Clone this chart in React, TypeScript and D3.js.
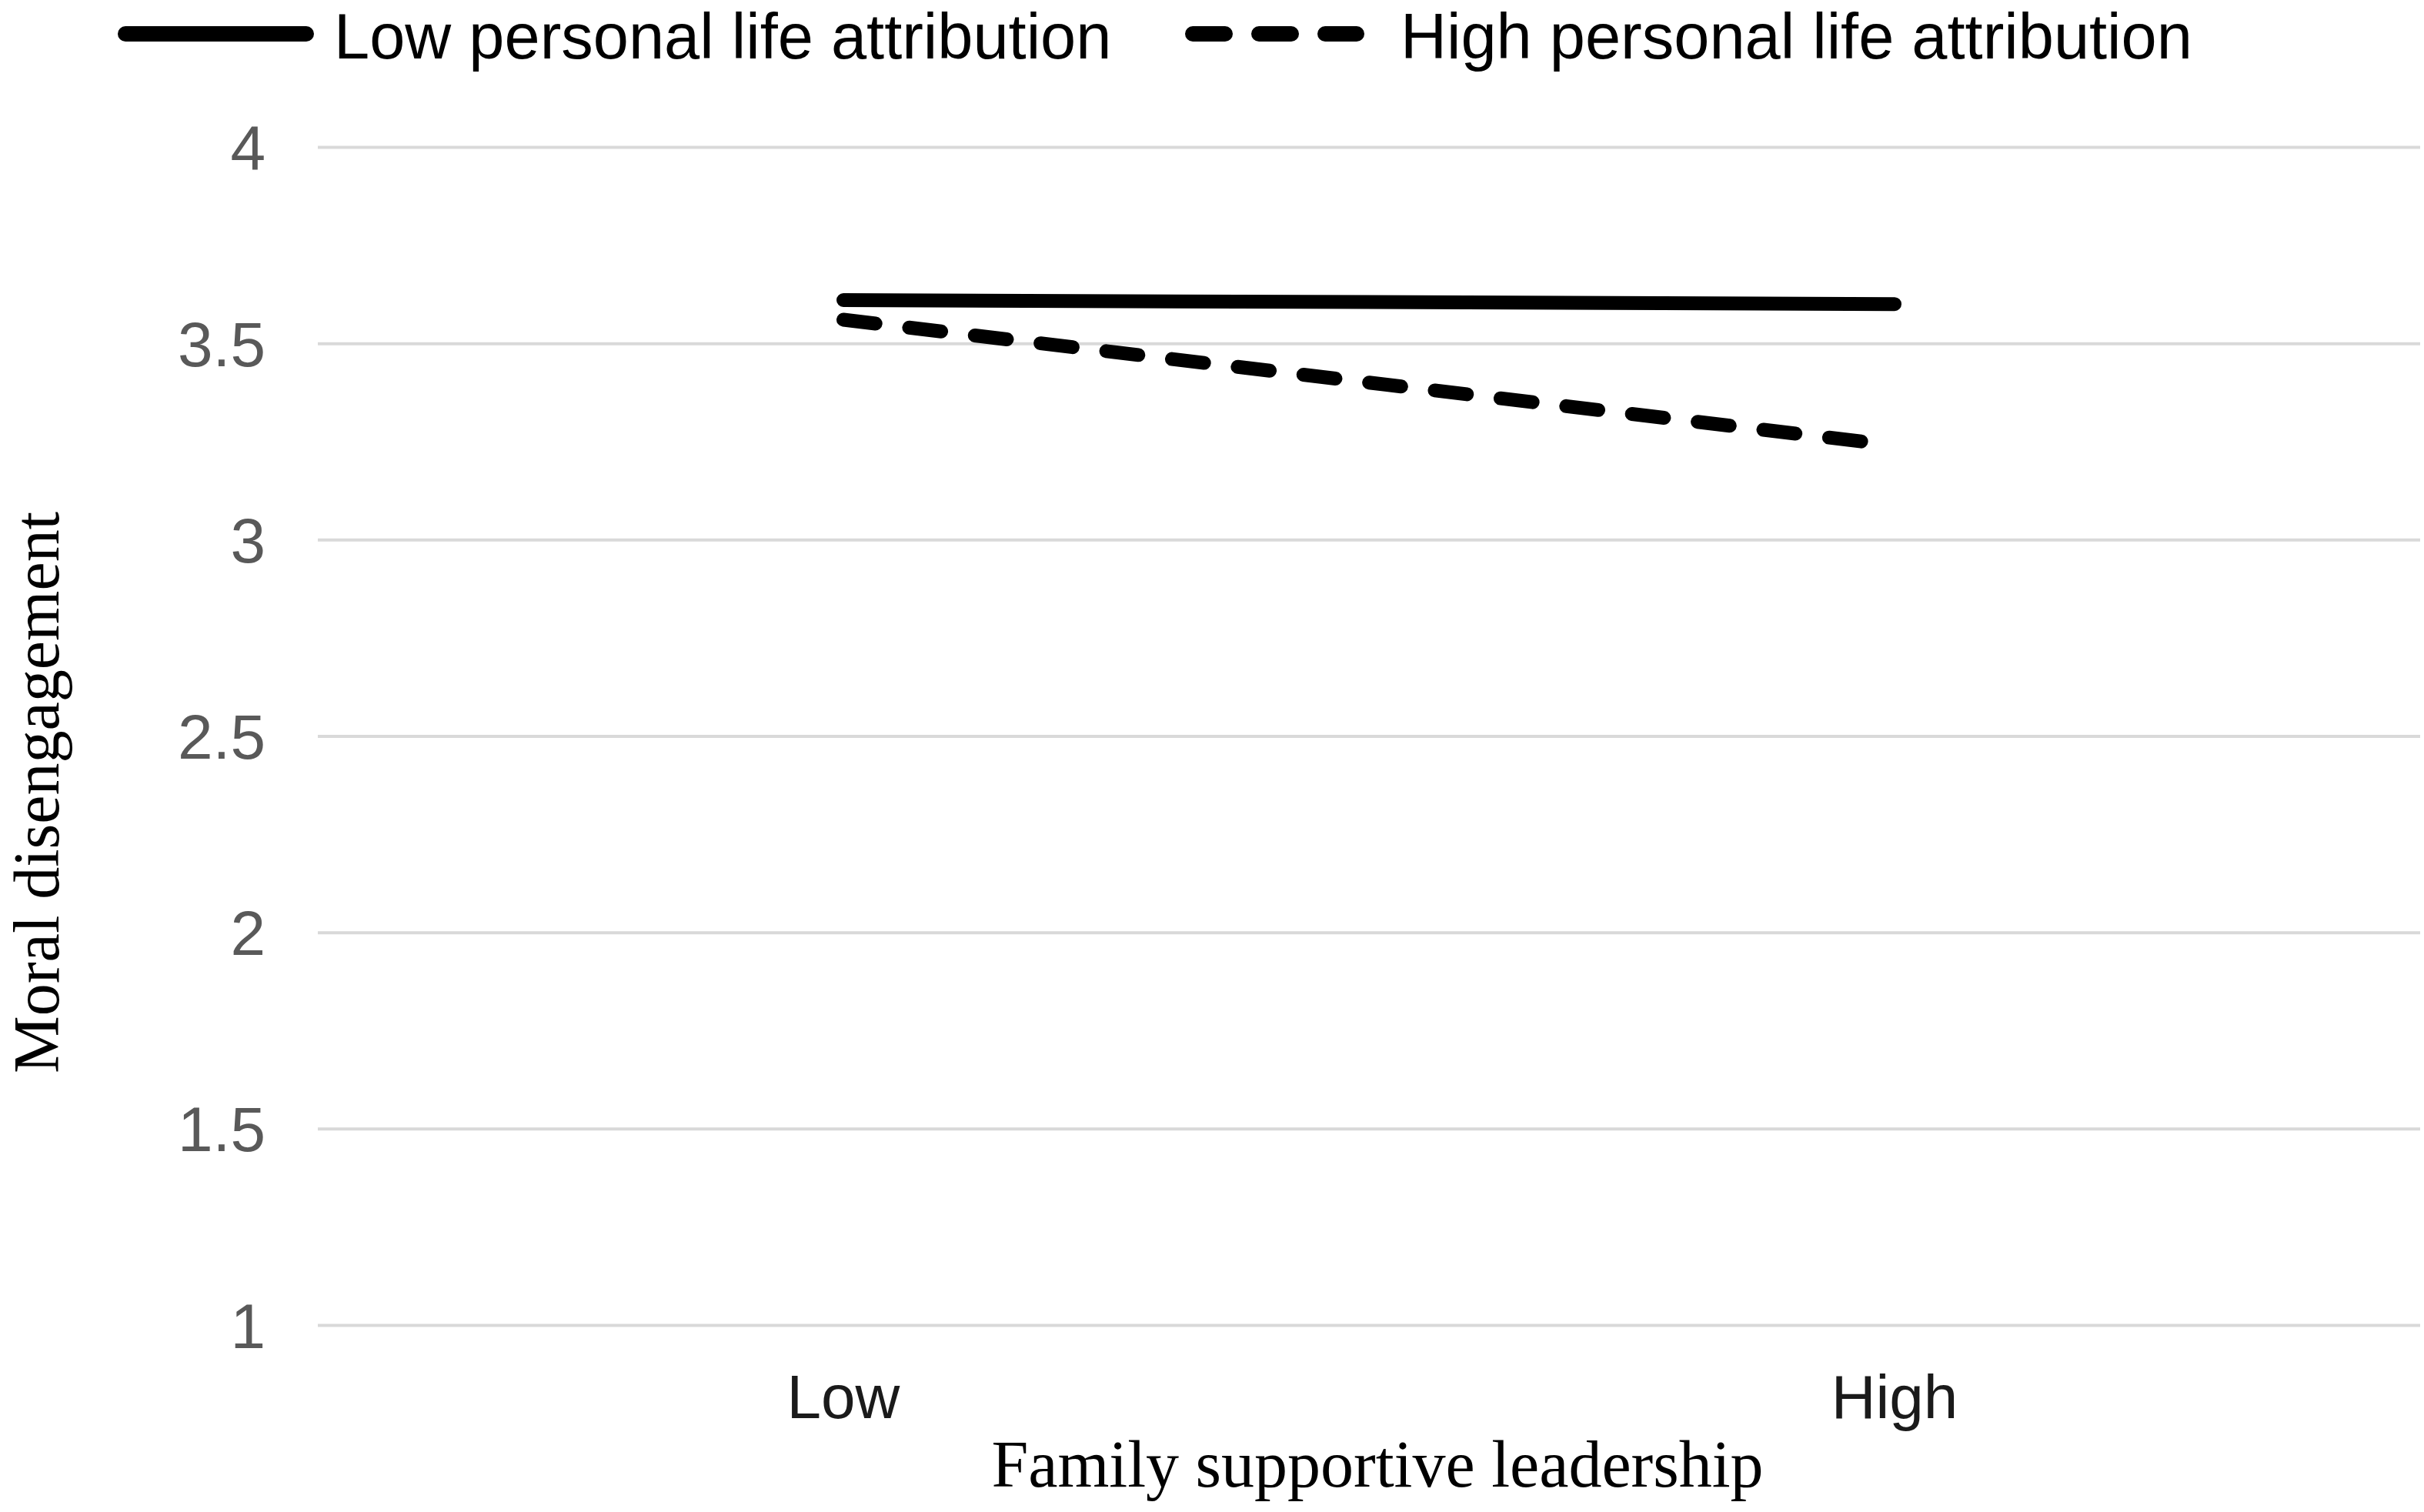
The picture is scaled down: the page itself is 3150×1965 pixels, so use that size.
import { useRef, useEffect } from "react";
import * as d3 from "d3";

const categories = ["Low", "High"];
const yTicks = [1, 1.5, 2, 2.5, 3, 3.5, 4];
const lowAttribution = [3.61, 3.6];
const highAttribution = [3.56, 3.24];
const seriesNames = ["Low personal life attribution", "High personal life attribution"];

export default function App() {
  const svgRef = useRef<SVGSVGElement>(null);

  useEffect(() => {
    const svg = d3.select(svgRef.current);
    const width = 3150;
    const height = 1965;
    svg.selectAll("*").remove();
    svg.attr("width", width).attr("height", height);

    svg.append("rect").attr("width", width).attr("height", height).attr("fill", "#fff");

    const x = d3.scalePoint<string>().domain(categories).range([413, 3145]).padding(0.5);
    const y = d3.scaleLinear().domain([1, 4]).range([1722, 191]);

    // grid
    const grid = svg
      .append("g")
      .attr("transform", "translate(413,0)")
      .call(d3.axisLeft(y).tickValues(yTicks).tickSize(-(3145 - 413)).tickFormat(() => ""));
    grid.select(".domain").remove();
    grid.selectAll("line").attr("stroke", "#d9d9d9").attr("stroke-width", 4);

    // y tick labels
    svg
      .append("g")
      .selectAll("text")
      .data(yTicks)
      .join("text")
      .attr("x", 345)
      .attr("y", (d) => y(d))
      .attr("dy", "0.36em")
      .attr("text-anchor", "end")
      .attr("font-family", "Liberation Sans, Arial, sans-serif")
      .attr("font-size", 82)
      .attr("fill", "#595959")
      .text((d) => String(d));

    // x tick labels
    svg
      .append("g")
      .selectAll("text")
      .data(categories)
      .join("text")
      .attr("x", (d) => x(d)!)
      .attr("y", 1843)
      .attr("text-anchor", "middle")
      .attr("font-family", "Liberation Sans, Arial, sans-serif")
      .attr("font-size", 80)
      .attr("fill", "#1a1a1a")
      .text((d) => d);

    // axis titles
    svg
      .append("text")
      .attr("x", 1790)
      .attr("y", 1932)
      .attr("text-anchor", "middle")
      .attr("font-family", "Liberation Serif, Times New Roman, serif")
      .attr("font-size", 86)
      .attr("fill", "#000")
      .text("Family supportive leadership");

    svg
      .append("text")
      .attr("transform", "translate(76,1030) rotate(-90)")
      .attr("text-anchor", "middle")
      .attr("font-family", "Liberation Serif, Times New Roman, serif")
      .attr("font-size", 84)
      .attr("fill", "#000")
      .text("Moral disengagement");

    // lines
    const line = d3
      .line<number>()
      .x((_, i) => x(categories[i])!)
      .y((d) => y(d));

    svg
      .append("path")
      .datum(lowAttribution)
      .attr("d", line)
      .attr("fill", "none")
      .attr("stroke", "#000")
      .attr("stroke-width", 18)
      .attr("stroke-linecap", "round");

    svg
      .append("path")
      .datum(highAttribution)
      .attr("d", line)
      .attr("fill", "none")
      .attr("stroke", "#000")
      .attr("stroke-width", 18)
      .attr("stroke-linecap", "round")
      .attr("stroke-dasharray", "42,44");

    // legend
    const legend = svg.append("g");
    const items = [
      { name: seriesNames[0], x0: 163, x1: 398, textX: 434, dash: null },
      { name: seriesNames[1], x0: 1550, x1: 1763, textX: 1820, dash: "42,44" },
    ];
    items.forEach((it) => {
      legend
        .append("line")
        .attr("x1", it.x0)
        .attr("x2", it.x1)
        .attr("y1", 44)
        .attr("y2", 44)
        .attr("stroke", "#000")
        .attr("stroke-width", 20)
        .attr("stroke-linecap", "round")
        .attr("stroke-dasharray", it.dash);
      legend
        .append("text")
        .attr("x", it.textX)
        .attr("y", 76)
        .attr("font-family", "Liberation Sans, Arial, sans-serif")
        .attr("font-size", 83)
        .attr("fill", "#000")
        .text(it.name);
    });
  }, []);

  return (
    <div style={{ position: "absolute", left: 0, top: 0 }}>
      <svg ref={svgRef} style={{ display: "block" }}></svg>
    </div>
  );
}
